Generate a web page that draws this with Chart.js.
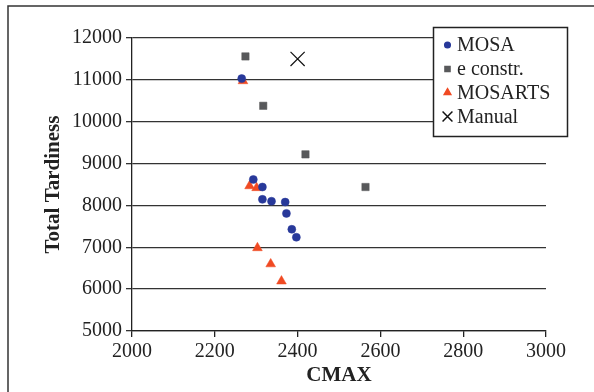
<!DOCTYPE html>
<html>
<head>
<meta charset="utf-8">
<script src="https://cdn.jsdelivr.net/npm/chart.js@4"></script>
<style>
  html, body { margin: 0; padding: 0; background: #fff; }
  #wrap { width: 594px; height: 392px; position: relative; }
</style>
</head>
<body>
<div id="wrap"><canvas id="chart"></canvas></div>
<script>
// Datos
const seriesNames = ['MOSA', 'e constr.', 'MOSARTS', 'Manual'];
const mosaCmax = [2265, 2293, 2315, 2315, 2337, 2370, 2373, 2386, 2397];
const mosaTard = [11030, 8620, 8440, 8145, 8100, 8080, 7810, 7430, 7240];
const constrCmax = [2274, 2317, 2419, 2564];
const constrTard = [11560, 10380, 9220, 8440];
const mosartsCmax = [2268, 2284, 2301, 2303, 2335, 2361];
const mosartsTard = [10975, 8465, 8420, 6985, 6600, 6190];
const manualCmax = [2400];
const manualTard = [11500];
const xTicks = [2000, 2200, 2400, 2600, 2800, 3000];
const yTicks = [5000, 6000, 7000, 8000, 9000, 10000, 11000, 12000];

const serif = '"Liberation Serif", "Times New Roman", serif';
const pts = (xs, ys) => xs.map((x, i) => ({x, y: ys[i]}));

// Marco exterior + caja de leyenda
const framePlugin = {
  id: 'frame',
  afterDraw(chart) {
    const ctx = chart.ctx;
    ctx.save();
    ctx.strokeStyle = '#333';
    ctx.lineWidth = 1.5;
    ctx.strokeRect(8, 6, 700, 500);

    // leyenda
    const bx = 433.5, by = 27.5, bw = 134, bh = 109;
    ctx.fillStyle = '#fff';
    ctx.fillRect(bx, by, bw, bh);
    ctx.strokeStyle = '#222';
    ctx.lineWidth = 1.5;
    ctx.strokeRect(bx, by, bw, bh);

    const rows = [45, 69, 92.5, 116.5];
    const sizes = [2.8, 3.6, 3.8, 7];
    chart.data.datasets.forEach((ds, i) => {
      ctx.fillStyle = ds.backgroundColor;
      ctx.strokeStyle = ds.borderColor;
      Chart.helpers.drawPoint(ctx, {
        pointStyle: ds.pointStyle, radius: sizes[i], rotation: 0,
        borderWidth: ds.pointStyle === 'crossRot' ? 1 : 0.5
      }, 447.5, rows[i]);
      ctx.fillStyle = '#222';
      ctx.font = '20px ' + serif;
      ctx.textBaseline = 'middle';
      ctx.textAlign = 'left';
      ctx.fillText(ds.label, 457, rows[i] + 1);
    });
    ctx.restore();
  }
};

new Chart(document.getElementById('chart'), {
  type: 'scatter',
  data: {
    datasets: [
      { label: seriesNames[0], data: pts(mosaCmax, mosaTard), pointStyle: 'circle',
        pointRadius: 4, backgroundColor: '#28399a', borderColor: '#28399a', borderWidth: 0.5 },
      { label: seriesNames[1], data: pts(constrCmax, constrTard), pointStyle: 'rect',
        pointRadius: 5.2, backgroundColor: '#58595b', borderColor: '#58595b', borderWidth: 0.5 },
      { label: seriesNames[2], data: pts(mosartsCmax, mosartsTard), pointStyle: 'triangle',
        pointRadius: 5.6, backgroundColor: '#f04a23', borderColor: '#f04a23', borderWidth: 0.5 },
      { label: seriesNames[3], data: pts(manualCmax, manualTard), pointStyle: 'crossRot',
        pointRadius: 10, backgroundColor: '#111', borderColor: '#111', borderWidth: 1.2 }
    ]
  },
  options: {
    responsive: true,
    maintainAspectRatio: false,
    animation: false,
    layout: { padding: { left: 0, top: 38, right: 48, bottom: 0 } },
    plugins: { legend: { display: false }, tooltip: { enabled: false } },
    scales: {
      x: {
        type: 'linear', min: 2000, max: 3000,
        afterBuildTicks: s => { s.ticks = xTicks.map(v => ({value: v})); },
        afterFit: s => { s.height = 61; },
        grid: { drawOnChartArea: false, drawTicks: true, tickLength: 6, color: '#222', lineWidth: 1.3 },
        border: { color: '#222', width: 1.3 },
        ticks: { color: '#222', font: { family: serif, size: 20 }, padding: 3, maxRotation: 0,
                 callback: v => String(v) },
        title: { display: true, text: 'CMAX', color: '#222',
                 font: { family: serif, size: 21, weight: 'bold' }, padding: { top: 0, bottom: 4 } }
      },
      y: {
        type: 'linear', min: 5000, max: 12000,
        afterBuildTicks: s => { s.ticks = yTicks.map(v => ({value: v})); },
        afterFit: s => { s.width = 132; },
        grid: { drawTicks: true, tickLength: 6, color: '#333', lineWidth: 1.3 },
        border: { color: '#222', width: 1.3 },
        ticks: { color: '#222', font: { family: serif, size: 20 }, padding: 4,
                 callback: v => String(v) },
        title: { display: true, text: 'Total Tardiness', color: '#222',
                 font: { family: serif, size: 21, weight: 'bold' }, padding: { top: 41, bottom: 0 } }
      }
    }
  },
  plugins: [framePlugin]
});
</script>
</body>
</html>
